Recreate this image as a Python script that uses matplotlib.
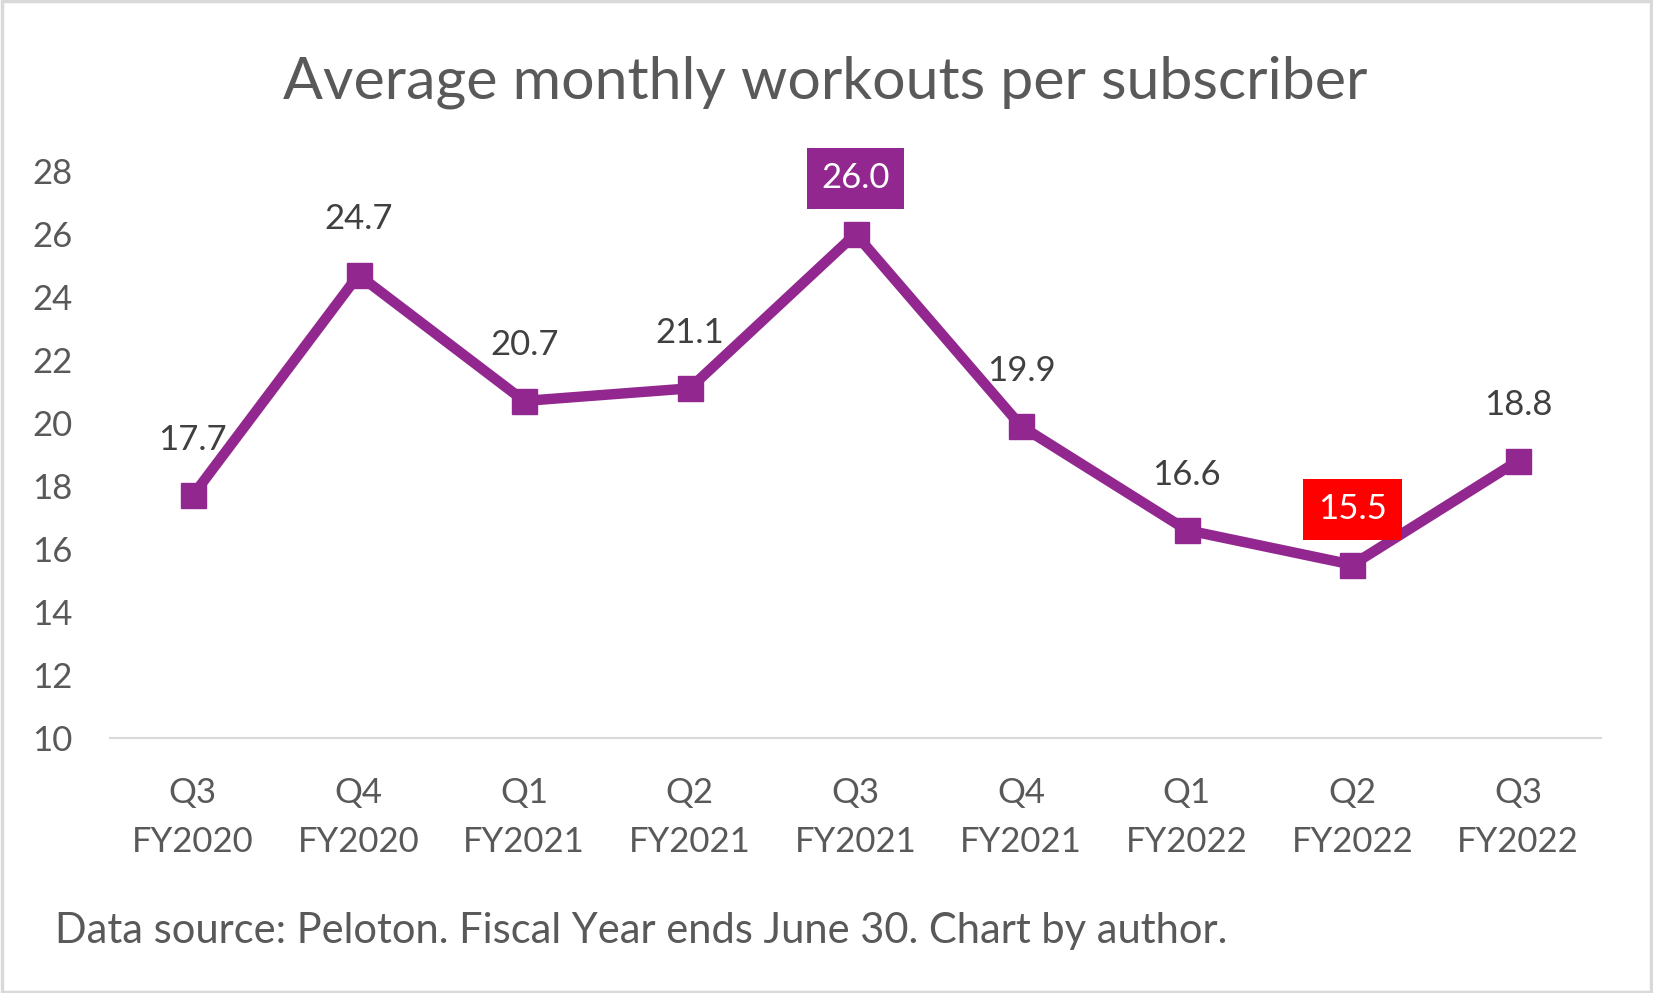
import matplotlib
matplotlib.use("Agg")
import matplotlib.pyplot as plt
from matplotlib.patches import Rectangle

# data
quarters = ["Q3\nFY2020", "Q4\nFY2020", "Q1\nFY2021", "Q2\nFY2021", "Q3\nFY2021",
            "Q4\nFY2021", "Q1\nFY2022", "Q2\nFY2022", "Q3\nFY2022"]
workouts = [17.7, 24.7, 20.7, 21.1, 26.0, 19.9, 16.6, 15.5, 18.8]
yticks = [10, 12, 14, 16, 18, 20, 22, 24, 26, 28]

purple = "#92278F"
grey = "#595959"
dark = "#404040"

plt.rcParams['font.family'] = ['Lato', 'DejaVu Sans']

W, H = 1653, 993
fig = plt.figure(figsize=(W / 100, H / 100), dpi=100)
ax = fig.add_axes([110 / W, 1 - 738 / H, (1601 - 110) / W, (738 - 171) / H])

x = list(range(len(workouts)))
ax.plot(x, workouts, color=purple, lw=7.5, marker="s", ms=18, solid_joinstyle="miter")

hi = workouts.index(max(workouts))
lo = workouts.index(min(workouts))
for i, v in enumerate(workouts):
    kw = dict(xy=(i, v), xytext=(0, 40), textcoords="offset points",
              ha="center", va="center", fontsize=25)
    if i == hi:
        ax.annotate(f"{v:.1f}", color="white",
                    bbox=dict(boxstyle="square,pad=0.42", fc=purple, ec="none"), **kw)
    elif i == lo:
        ax.annotate(f"{v:.1f}", color="white",
                    bbox=dict(boxstyle="square,pad=0.42", fc="#FF0000", ec="none"), **kw)
    else:
        ax.annotate(f"{v:.1f}", color=dark, **kw)

ax.set_xlim(-0.5, len(workouts) - 0.5)
ax.set_ylim(10, 28)
ax.set_yticks(yticks)
ax.set_xticks(x)
ax.set_xticklabels(quarters, linespacing=1.65)
ax.tick_params(axis="both", length=0, labelsize=25, labelcolor=grey)
ax.tick_params(axis="y", pad=27)
ax.tick_params(axis="x", pad=28)
for s in ["top", "right", "left"]:
    ax.spines[s].set_visible(False)
ax.spines["bottom"].set_color("#D9D9D9")
ax.spines["bottom"].set_linewidth(1.5)

fig.text(825 / W, 1 - 82 / H, "Average monthly workouts per subscriber",
         ha="center", va="center", fontsize=42.5, color=grey)
fig.text(55 / W, 1 - 931 / H, "Data source: Peloton. Fiscal Year ends June 30. Chart by author.",
         ha="left", va="center", fontsize=30, color=grey)

fig.patches.append(Rectangle((0.001, 0.0015), 0.998, 0.997, transform=fig.transFigure,
                             fill=False, ec="#D9D9D9", lw=2.5))

fig.savefig("out.png", dpi=100)
